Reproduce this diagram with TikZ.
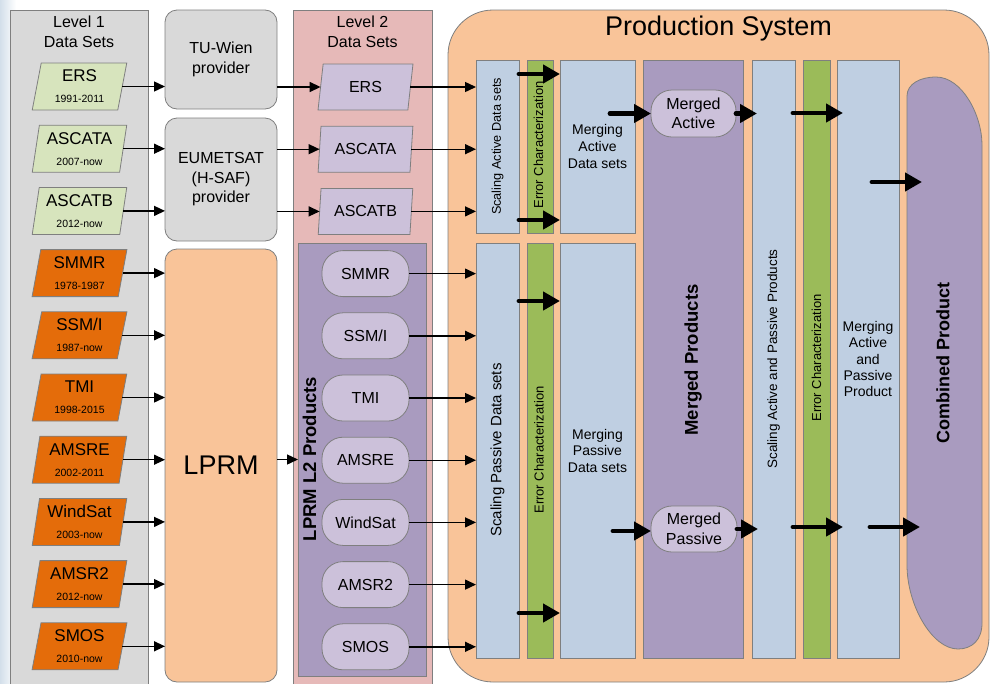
\documentclass[tikz,border=0pt]{standalone}
\usepackage{fontspec}
\setmainfont{Liberation Sans}
\usetikzlibrary{shapes.geometric,arrows.meta,calc}

\definecolor{panelgray}{HTML}{D9D9D9}
\definecolor{edgegray}{HTML}{7F7F7F}
\definecolor{lgreen}{HTML}{D7E4BD}
\definecolor{orng}{HTML}{E46C0A}
\definecolor{peach}{HTML}{F9C499}
\definecolor{pinkpanel}{HTML}{E6B9B8}
\definecolor{lilac}{HTML}{CCC1DA}
\definecolor{purp}{HTML}{A99BBF}
\definecolor{lblue}{HTML}{BFCFE2}
\definecolor{dgreen}{HTML}{9BBB59}
\definecolor{bgblue}{HTML}{D3DFEA}

\newcommand{\fs}[2]{\fontsize{#1}{#2}\selectfont}

\tikzset{
  every node/.style={inner sep=0pt, outer sep=0pt},
  panel/.style={draw=edgegray, line width=0.8pt},
  provbox/.style={draw=edgegray, line width=0.8pt, rounded corners=12pt, align=center, font=\fs{16}{19.5}},
  para/.style={trapezium, trapezium left angle=80, trapezium right angle=100,
    trapezium stretches=true, minimum width=95, minimum height=47,
    draw=edgegray, line width=0.8pt, align=center, font=\fs{17}{21}},
  paratwo/.style={para, fill=lilac, minimum height=46, font=\fs{16}{19}},
  ovalbox/.style={draw=edgegray, line width=0.8pt, fill=lilac, rounded corners=21pt,
    minimum width=87, minimum height=46, align=center, font=\fs{16}{19}},
  col/.style={draw=edgegray, line width=0.8pt},
  rot/.style={rotate=90},
  thn/.style={line width=1.4pt, -{Triangle[length=11pt,width=10pt]}},
  thk/.style={line width=4.8pt, line cap=round, -{Triangle[length=17pt,width=18pt]}}
}
\newcommand{\yrs}[1]{{\fs{10.5}{12}#1}}

\begin{document}
\begin{tikzpicture}[x=1pt,y=-1pt]
\clip (0,0) rectangle (990,683);
\shade[left color=bgblue, right color=white] (0,0) rectangle (16,683);

% ---------- Level 1 ----------
\node[panel, fill=panelgray, minimum width=138, minimum height=680] (lvl1) at (79,350) {};
\node[align=center, font=\fs{16}{20}] (lvl1t) at (79,32) {Level 1\\Data Sets};

\foreach \n/\t/\y [count=\i from 0] in {ers/ERS/1991-2011, ascata/ASCATA/2007-now, ascatb/ASCATB/2012-now}
  \node[para, fill=lgreen] (l1\n) at (79.5, 86.5+62.2*\i) {\t\\\yrs{\y}};
\foreach \n/\t/\y [count=\i from 3] in {smmr/SMMR/1978-1987, ssmi/{SSM/I}/1987-now, tmi/TMI/1998-2015,
    amsre/AMSRE/2002-2011, windsat/WindSat/2003-now, amsrtwo/AMSR2/2012-now, smos/SMOS/2010-now}
  \node[para, fill=orng] (l1\n) at (79.5, 86.5+62.2*\i) {\t\\\yrs{\y}};

% ---------- Providers ----------
\node[provbox, fill=panelgray, minimum width=112, minimum height=99] (tuw) at (221,59.5) {TU-Wien\\provider};
\node[provbox, fill=panelgray, minimum width=112, minimum height=123] (eum) at (221,179.5) {EUMETSAT\\(H-SAF)\\provider};
\node[provbox, fill=peach, minimum width=112, minimum height=433, font=\fs{27}{30}] (lprm) at (221,465.5) {LPRM};

% ---------- Level 2 ----------
\node[panel, fill=pinkpanel, minimum width=139, minimum height=680] (lvl2) at (362.5,350) {};
\node[align=center, font=\fs{16}{20}] (lvl2t) at (362.5,32) {Level 2\\Data Sets};
\node[paratwo] (l2ers) at (365.5,87) {ERS};
\node[paratwo] (l2ascata) at (365.5,149.2) {ASCATA};
\node[paratwo] (l2ascatb) at (365.5,211.4) {ASCATB};

\node[panel, fill=purp, minimum width=128, minimum height=433] (lp2) at (362,459.5) {};
\node[rot, font=\bfseries\fs{18.5}{20}] (lp2t) at (309.5,459) {LPRM L2 Products};

\foreach \n/\t [count=\i from 3] in {smmr/SMMR, ssmi/{SSM/I}, tmi/TMI, amsre/AMSRE, windsat/WindSat, amsrtwo/AMSR2, smos/SMOS}
  \node[ovalbox] (o\n) at (365.5, 87+62.2*\i) {\t};

% ---------- Production system ----------
\node[panel, fill=peach, rounded corners=45pt, minimum width=541, minimum height=672] (prod) at (718.5,346) {};
\node[font=\fs{27}{30}, anchor=base] (prodt) at (718.5,35.5) {Production System};

\node[col, fill=lblue, minimum width=43, minimum height=173] (sca) at (497.5,146.5) {};
\node[col, fill=dgreen, minimum width=26, minimum height=173] (eca) at (540,146.5) {};
\node[col, fill=lblue, minimum width=75, minimum height=173, align=center, font=\fs{14}{17}] (mad) at (597.5,146.5) {Merging\\Active\\Data sets};

\node[col, fill=lblue, minimum width=43, minimum height=415] (scp) at (497.5,450.5) {};
\node[col, fill=dgreen, minimum width=26, minimum height=415] (ecp) at (540,450.5) {};
\node[col, fill=lblue, minimum width=75, minimum height=415, align=center, font=\fs{14}{16.5}] (mpd) at (597.5,450.5) {Merging\\Passive\\Data sets};

\node[col, fill=purp, minimum width=100, minimum height=598] (mp) at (693,359) {};
\node[col, fill=lblue, minimum width=43, minimum height=598] (sap) at (773.5,359) {};
\node[col, fill=dgreen, minimum width=27, minimum height=598] (ecc) at (816.5,359) {};
\node[col, fill=lblue, minimum width=62, minimum height=598, align=center, font=\fs{14}{16.3}] (map) at (868,359) {Merging\\Active\\and\\Passive\\Product};

\filldraw[fill=purp, draw=edgegray, line width=0.8pt]
  (907,96) .. controls (907,84) and (920,77) .. (936,77)
  .. controls (962,77) and (982,115) .. (982,145)
  -- (982,623) .. controls (982,640) and (972,649) .. (958,649)
  .. controls (932,649) and (907,605) .. (907,565) -- cycle;
\coordinate (cpl) at (907,363);
\node[rot, font=\bfseries\fs{18}{20}] (cpt) at (943,363) {Combined Product};

% rotated labels
\node[rot, font=\fs{12.7}{14}] (tsca) at (sca.center) {Scaling Active Data sets};
\node[rot, font=\fs{13}{14}] (teca) at (538.5,145) {Error Characterization};
\node[rot, font=\fs{15}{16}] (tscp) at (497.5,450) {Scaling Passive Data sets};
\node[rot, font=\fs{13}{14}] (tecp) at (539,450) {Error Characterization};
\node[rot, font=\bfseries\fs{18.5}{20}] (tmp) at (693,360) {Merged Products};
\node[rot, font=\fs{13.5}{14}] (tsap) at (773.5,359) {Scaling Active and Passive Products};
\node[rot, font=\fs{13}{14}] (tecc) at (816.5,358) {Error Characterization};

\node[ovalbox, minimum width=85, minimum height=47] (ma) at (693.5,113.5) {Merged\\Active};
\node[ovalbox, minimum width=86, minimum height=46, font=\fs{16}{20}] (mpa) at (694,529) {Merged\\Passive};

% ---------- thin arrows ----------
\draw[thn] (l1ers.east) -- (l1ers.east -| tuw.west);
\foreach \n in {ascata, ascatb} \draw[thn] (l1\n.east) -- (l1\n.east -| eum.west);
\foreach \n in {smmr, ssmi, tmi, amsre, windsat, amsrtwo, smos} \draw[thn] (l1\n.east) -- (l1\n.east -| lprm.west);

\draw[thn] (l2ers.west -| tuw.east) -- (l2ers.west);
\foreach \n in {ascata, ascatb} \draw[thn] (l2\n.west -| eum.east) -- (l2\n.west);
\draw[thn] (lp2.west -| lprm.east) -- (lp2.west);

\foreach \n in {ers, ascata, ascatb} \draw[thn] (l2\n.east) -- (l2\n.east -| sca.west);
\foreach \n in {smmr, ssmi, tmi, amsre, windsat, amsrtwo, smos} \draw[thn] (o\n.east) -- (o\n.east -| scp.west);

% ---------- thick arrows ----------
\draw[thk] (sca.east |- 0,74) -- (mad.west |- 0,74);
\draw[thk] (sca.east |- 0,220) -- (mad.west |- 0,220);
\draw[thk] (scp.east |- 0,301) -- (mpd.west |- 0,301);
\draw[thk] (scp.east |- 0,613) -- (mpd.west |- 0,613);

\draw[thk] ($(ma.west)+(-41,0)$) -- (ma.west);
\draw[thk] (ma.east) -- ($(ma.east -| sap.west)+(5,0)$);
\draw[thk] ($(sap.east |- 0,113)+(-2,0)$) -- ($(map.west |- 0,113)+(6,0)$);
\draw[thk] ($(map.east |- 0,182)+(-27,0)$) -- ($(cpl |- 0,182)+(15,0)$);

\draw[thk] ($(mpa.west)+(-38,2)$) -- ($(mpa.west)+(0,2)$);
\draw[thk] (mpa.east) -- ($(mpa.east -| sap.west)+(6,0)$);
\draw[thk] ($(sap.east |- 0,527)+(-2,0)$) -- ($(map.west |- 0,527)+(6,0)$);
\draw[thk] ($(map.east |- 0,527)+(-29,0)$) -- ($(cpl |- 0,527)+(13,0)$);
\end{tikzpicture}
\end{document}
